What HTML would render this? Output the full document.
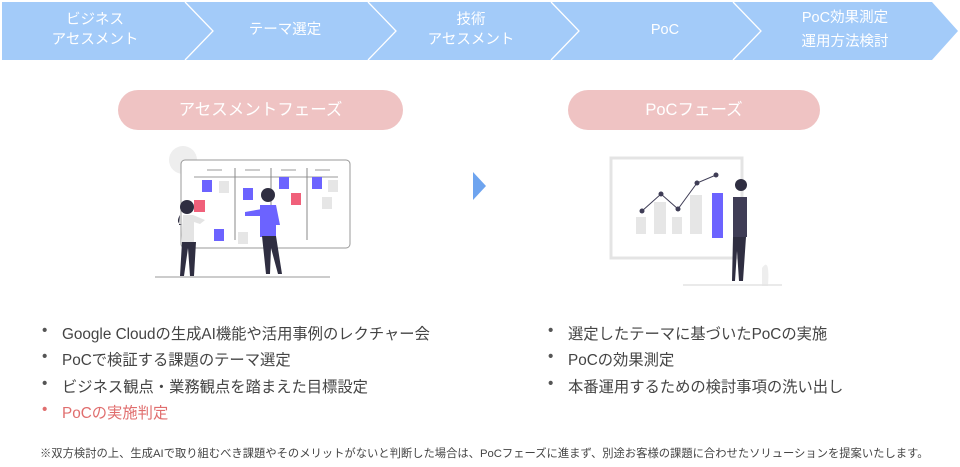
<!DOCTYPE html>
<html><head><meta charset="utf-8"><style>
html,body{margin:0;padding:0;background:#fff;width:960px;height:467px;overflow:hidden;position:relative;font-family:"Liberation Sans","Noto Sans CJK JP",sans-serif}
.t{position:absolute;color:#fff;font-size:14.5px;text-align:center;line-height:20px}
.pill{position:absolute;background:#efc3c3;border-radius:20px;color:#fff;font-size:16.5px;text-align:center;line-height:40px}
.li{position:absolute;font-size:15.3px;color:#444;white-space:nowrap}
.li:before{content:"•";position:absolute;left:-20px;color:#555}
.red{color:#e06e6e}.red:before{color:#e06e6e}
</style></head><body>
<svg width="960" height="467" style="position:absolute;left:0;top:0">
<polygon points="2,2 932,2 958,31 932,60 2,60" fill="#a3cbf9"/>
<g stroke="#fff" stroke-width="1.3" fill="none">
<polyline points="185,2 213,31 185,60"/>
<polyline points="368,2 396,31 368,60"/>
<polyline points="551,2 579,31 551,60"/>
<polyline points="733,2 761,31 733,60"/>
</g>
<polygon points="473,172 486,186 473,200" fill="#6ea4ef"/>
<circle cx="183" cy="160" r="14" fill="#eee"/>
<rect x="181" y="160" width="169" height="88" rx="4" fill="#fff" stroke="#999" stroke-width="1"/>
<line x1="194" y1="177" x2="338" y2="177" stroke="#999"/>
<g stroke="#888"><line x1="235" y1="168" x2="235" y2="240"/><line x1="271" y1="168" x2="271" y2="240"/><line x1="307" y1="168" x2="307" y2="240"/></g>
<g stroke="#ccc" stroke-width="2"><line x1="207" y1="170" x2="222" y2="170"/><line x1="245" y1="170" x2="260" y2="170"/><line x1="281" y1="170" x2="296" y2="170"/><line x1="315" y1="170" x2="330" y2="170"/></g>
<g fill="#6c63ff"><rect x="202" y="180" width="10" height="12"/><rect x="243" y="188" width="10" height="12"/><rect x="279" y="177" width="10" height="12"/><rect x="312" y="177" width="10" height="12"/><rect x="214" y="229" width="10" height="12"/></g>
<g fill="#e6e6e6"><rect x="219" y="181" width="10" height="12"/><rect x="328" y="180" width="10" height="12"/><rect x="322" y="197" width="10" height="12"/><rect x="238" y="232" width="10" height="12"/></g>
<g fill="#f0607a"><rect x="291" y="193" width="10" height="12"/><rect x="194" y="200" width="11" height="12"/></g>
<circle cx="187" cy="207" r="7" fill="#2f2e41"/>
<path d="M180 215 q-5 8 2 10 l-3 0" fill="#2f2e41"/>
<path d="M183 215 h10 l12 5 l-5 4 l-6 -2 v20 h-13z" fill="#e4e4e4"/>
<path d="M182 242 h14 l-2 34 h-4 l-2 -28 l-4 28 h-4z" fill="#2f2e41"/>
<circle cx="268" cy="195" r="7" fill="#2f2e41"/>
<path d="M260 205 h16 l4 20 h-4 v12 h-16z" fill="#6c63ff"/>
<path d="M262 209 l-17 3 v4 l17 0z" fill="#6c63ff"/>
<path d="M262 236 h14 l6 38 h-4 l-7 -26 l-1 26 h-4z" fill="#2f2e41"/>
<line x1="155" y1="277" x2="330" y2="277" stroke="#bbb" stroke-width="1.5"/>
<rect x="611" y="158" width="131" height="100" fill="#fff" stroke="#e4e4e4" stroke-width="3"/>
<g fill="#e6e6e6"><rect x="636" y="217" width="10" height="17"/><rect x="654" y="202" width="12" height="32"/><rect x="672" y="217" width="10" height="17"/><rect x="690" y="195" width="12" height="39"/></g>
<rect x="712" y="193" width="11" height="45" fill="#6c63ff"/>
<polyline points="642,211 661,194 678,209 697,183 716,175" fill="none" stroke="#3f3d56" stroke-width="1"/>
<g fill="#3f3d56"><circle cx="642" cy="211" r="2.5"/><circle cx="661" cy="194" r="2.5"/><circle cx="678" cy="209" r="2.5"/><circle cx="697" cy="183" r="2.5"/><circle cx="716" cy="175" r="2.5"/></g>
<circle cx="741" cy="185" r="6" fill="#2f2e41"/>
<path d="M733 197 h14 v40 h-14z" fill="#3f3d56"/>
<path d="M733 237 h13 l-3 44 h-4 l-2 -30 l-2 30 h-3z" fill="#2f2e41"/>
<path d="M762 268 q8 -12 6 18 h-6z" fill="#eee"/>
<line x1="683" y1="285" x2="782" y2="285" stroke="#e4e4e4" stroke-width="1.5"/>
</svg>
<div class="t" style="left:40px;top:10px;width:110px">ビジネス<br>アセスメント</div>
<div class="t" style="left:220px;top:20px;width:130px">テーマ選定</div>
<div class="t" style="left:406px;top:10px;width:130px">技術<br>アセスメント</div>
<div class="t" style="left:600px;top:20px;width:130px">PoC</div>
<div class="t" style="left:780px;top:6px;width:130px;line-height:24px">PoC効果測定<br>運用方法検討</div>
<div class="pill" style="left:118px;top:90px;width:285px">アセスメントフェーズ</div>
<div class="pill" style="left:568px;top:90px;width:252px">PoCフェーズ</div>
<div class="li" style="left:62px;top:322px">Google Cloudの生成AI機能や活用事例のレクチャー会</div>
<div class="li" style="left:62px;top:348px">PoCで検証する課題のテーマ選定</div>
<div class="li" style="left:62px;top:375px">ビジネス観点・業務観点を踏まえた目標設定</div>
<div class="li red" style="left:62px;top:401px">PoCの実施判定</div>
<div class="li" style="left:568px;top:322px">選定したテーマに基づいたPoCの実施</div>
<div class="li" style="left:568px;top:348px">PoCの効果測定</div>
<div class="li" style="left:568px;top:375px">本番運用するための検討事項の洗い出し</div>
<div style="position:absolute;left:40px;top:445px;font-size:11.3px;color:#444;white-space:nowrap">※双方検討の上、生成AIで取り組むべき課題やそのメリットがないと判断した場合は、PoCフェーズに進まず、別途お客様の課題に合わせたソリューションを提案いたします。</div>
</body></html>
